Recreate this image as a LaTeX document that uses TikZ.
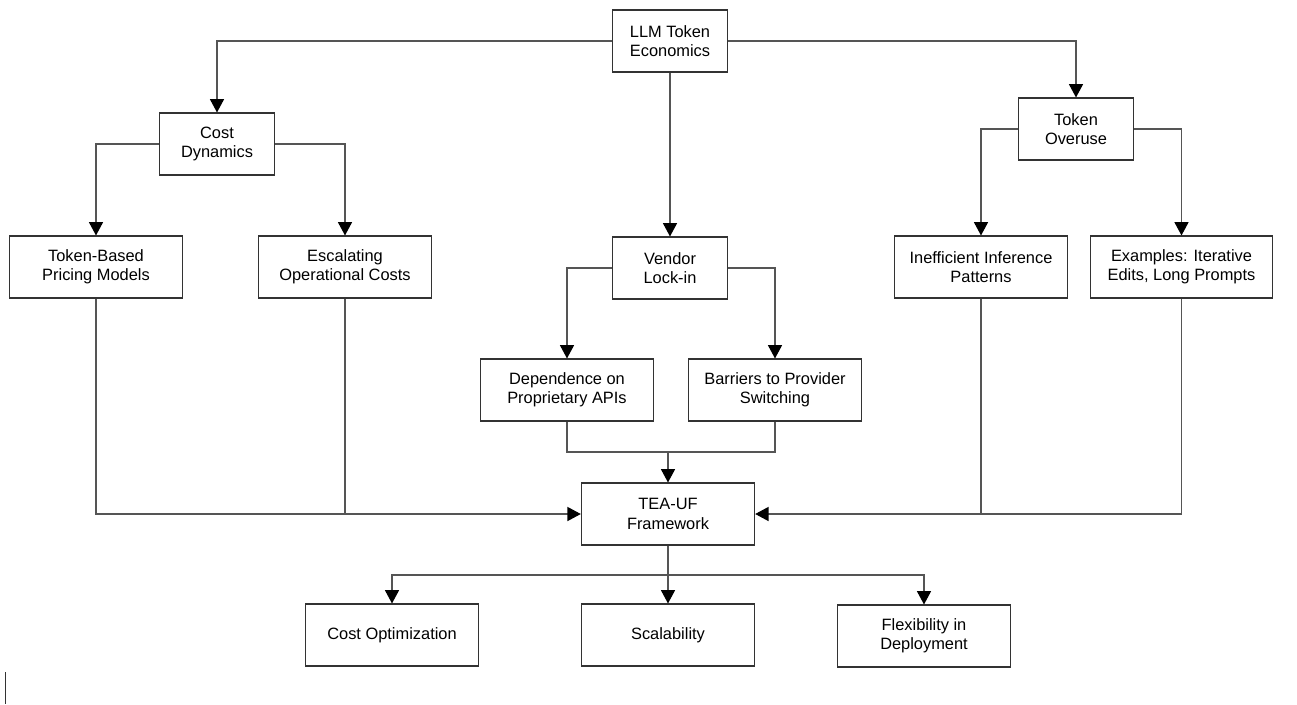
\documentclass[tikz,border=0pt]{standalone}
\usepackage{fontspec}
\setmainfont{Liberation Sans}
\usepackage{xcolor}
\usepackage{tikz}
\usetikzlibrary{arrows.meta,calc}
\definecolor{edge}{HTML}{555555}
\definecolor{frame}{HTML}{333333}
\tikzset{
  box/.style={
    draw=frame, line width=0.8pt, fill=white,
    align=center, inner sep=2pt,
    font=\fontsize{12.3}{14.4}\selectfont
  },
  wide/.style={box, minimum width=130pt, minimum height=46.5pt},
  small/.style={box, minimum width=86.5pt, minimum height=46.5pt},
  conn/.style={
    draw=edge, line width=1pt,
    -{Triangle[length=10pt,width=10.5pt,fill=black,color=black]}
  },
  link/.style={draw=edge, line width=1pt}
}

\begin{document}
\begin{tikzpicture}[x=0.75pt, y=-0.75pt, line join=miter]
  \useasboundingbox (0,0) rectangle (1297,704);

  % top level
  \node[small] (llm) at (670,41) {LLM Token\\Economics};
  \node[small] (cost) at (217,144) {Cost\\Dynamics};
  \node[small] (overuse) at (1076,129) {Token\\Overuse};
  \node[small] (vendor) at (670,268) {Vendor\\Lock-in};

  % second row
  \node[wide] (pricing) at (96,267) {Token-Based\\Pricing Models};
  \node[wide] (escal) at (345,267) {Escalating\\Operational Costs};
  \node[wide] (ineff) at (981,267) {Inefficient Inference\\Patterns};
  \node[wide, minimum width=137pt] (examples) at (1181.5,267) {Examples: Iterative\\Edits, Long Prompts};
  \node[wide] (depend) at (567,390) {Dependence on\\Proprietary APIs};
  \node[wide] (barrier) at (775,390) {Barriers to Provider\\Switching};

  % framework and outcomes
  \node[wide] (tea) at (668,514) {TEA-UF\\Framework};
  \node[wide] (costopt) at (392,635) {Cost Optimization};
  \node[wide] (scale) at (668,635) {Scalability};
  \node[wide] (flex) at (924,636) {Flexibility in\\Deployment};

  \coordinate (vjoin) at (668,452);
  \coordinate (split) at (668,575);

  % branches out of the root
  \draw[conn] (llm.west) -| (cost.north);
  \draw[conn] (llm.east) -| (overuse.north);
  \draw[conn] (llm.south) -- (vendor.north);

  \draw[conn] (cost.west) -| (pricing.north);
  \draw[conn] (cost.east) -| (escal.north);
  \draw[conn] (overuse.west) -| (ineff.north);
  \draw[conn] (overuse.east) -| (examples.north);
  \draw[conn] (vendor.west) -| (depend.north);
  \draw[conn] (vendor.east) -| (barrier.north);

  % everything feeds the framework
  \draw[link] (depend.south) |- (vjoin);
  \draw[conn] (barrier.south) |- (vjoin) -- (tea.north);
  \draw[link] (pricing.south) |- (escal.south |- tea.west);
  \draw[conn] (escal.south) |- (tea.west);
  \draw[link] (examples.south) |- (ineff.south |- tea.east);
  \draw[conn] (ineff.south) |- (tea.east);

  % outcomes
  \draw[conn] (tea.south) -- (split) -| (costopt.north);
  \draw[conn] (split) -- (scale.north);
  \draw[conn] (split) -| (flex.north);

  % stray mark at the left edge
  \draw[frame, line width=1pt] (5.5,672) -- (5.5,704);
\end{tikzpicture}
\end{document}
